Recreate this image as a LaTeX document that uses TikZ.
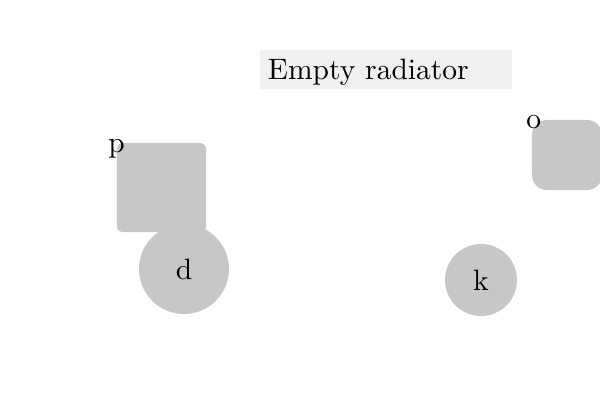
\documentclass[tikz,border=0pt]{standalone}
\usepackage{fontspec}
\setmainfont{lmroman10-regular}[Extension=.otf]
\usetikzlibrary{positioning}

\begin{document}
\begin{tikzpicture}[
    x=0.025cm, y=-0.025cm,
    every node/.style={font=\fontsize{21}{25}\selectfont},
    blob/.style={fill=black!22, draw=none},
    squarebox/.style={blob, rectangle, minimum size=2.225cm, rounded corners=0.15cm},
    roundbox/.style={blob, circle, inner sep=0pt},
    titlebox/.style={fill=black!6, inner xsep=0.2cm, inner ysep=0pt, text height=0.74cm,
                     text depth=0.235cm, text width=5.9cm, align=left}
]
\useasboundingbox (0,0) rectangle (600,400);

% 标题
\node[titlebox] (title) at (386,69.5) {Empty radiator};

% 左侧
\node[roundbox, minimum size=2.25cm] (d) at (184,269) {d};
\node[squarebox, label={[anchor=center, yshift=-0.16cm]north west:p}] (p) at (161.5,187.5) {};

% 右侧
\node[roundbox, minimum size=1.8cm] (k) at (481,280) {k};
\node[blob, rectangle, minimum size=1.75cm, rounded corners=0.375cm,
      label={[anchor=center, xshift=0.05cm, yshift=-0.06cm]north west:o}] (o) at (567,155) {};

\end{tikzpicture}
\end{document}
